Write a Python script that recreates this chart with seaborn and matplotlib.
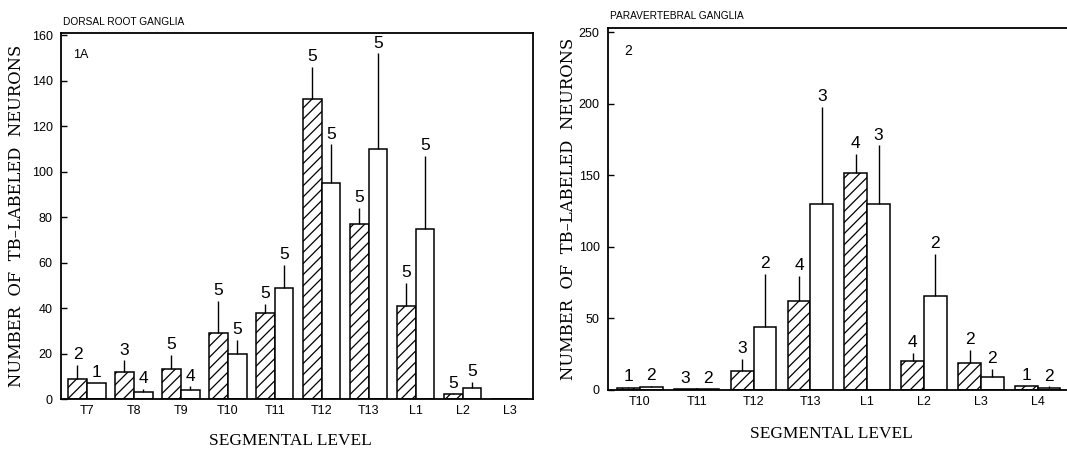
import numpy as np
import pandas as pd
import matplotlib
matplotlib.use("Agg")
import matplotlib.pyplot as plt
import seaborn as sns

# ---------------- data ----------------
series_names = ["Series 1", "Series 2"]   # hatched, open

drg_levels = ["T7", "T8", "T9", "T10", "T11", "T12", "T13", "L1", "L2", "L3"]
drg_hatched = [9, 12, 13, 29, 38, 132, 77, 41, 2, 0]
drg_hatched_err = [6, 5, 6.5, 14, 4, 14, 7, 10, 0.5, np.nan]
drg_hatched_n = [2, 3, 5, 5, 5, 5, 5, 5, 5, None]
drg_open = [7, 3, 4, 20, 49, 95, 110, 75, 5, 0]
drg_open_err = [0, 1.5, 1.5, 6, 10, 17, 42, 32, 2.5, np.nan]
drg_open_n = [1, 4, 4, 5, 5, 5, 5, 5, 5, None]

pvg_levels = ["T10", "T11", "T12", "T13", "L1", "L2", "L3", "L4"]
pvg_hatched = [1.5, 0.5, 13, 62, 152, 20, 19, 2.5]
pvg_hatched_err = [0.5, 0.5, 9, 18, 13, 6, 9, 0.5]
pvg_hatched_n = [1, 3, 3, 4, 4, 4, 2, 1]
pvg_open = [2, 0.5, 44, 130, 130, 66, 9, 1.5]
pvg_open_err = [1, 0.5, 37, 68, 41, 29, 6, 1]
pvg_open_n = [2, 2, 2, 3, 3, 2, 2, 2]

drg_yticks = [0, 20, 40, 60, 80, 100, 120, 140, 160]
pvg_yticks = [0, 50, 100, 150, 200, 250]

# ---------------- style ----------------
sns.set_theme(style="white")
plt.rcParams["font.family"] = ["Liberation Sans Narrow", "Liberation Sans", "DejaVu Sans"]
plt.rcParams["hatch.linewidth"] = 0.9
plt.rcParams["hatch.color"] = "black"
for key in ["text.color", "axes.labelcolor", "xtick.color", "ytick.color"]:
    plt.rcParams[key] = "black"

NARROW = ["Liberation Sans Narrow", "Liberation Sans", "DejaVu Sans"]
SERIF_Y = ["DejaVu Serif"]
SERIF_X = ["Liberation Serif", "DejaVu Serif"]

W, H = 1067, 453
fig = plt.figure(figsize=(W / 100, H / 100), dpi=100)


def frac(x0, y0, x1, y1):
    return [x0 / W, 1 - y1 / H, (x1 - x0) / W, (y1 - y0) / H]


def panel(ax, levels, hv, he, hn, ov, oe, on, yticks, ylim, xlim, ylab_x, xlab_y):
    df = pd.DataFrame({
        "level": levels * 2,
        "value": list(hv) + list(ov),
        "series": [series_names[0]] * len(levels) + [series_names[1]] * len(levels),
    })
    sns.barplot(data=df, x="level", y="value", hue="series", order=levels,
                hue_order=series_names, palette=["white", "white"], saturation=1,
                edgecolor="black", linewidth=1.1, errorbar=None, width=0.8,
                legend=False, ax=ax)
    errs = [he, oe]
    ns = [hn, on]
    for ci, cont in enumerate(ax.containers):
        for bar, e, n in zip(cont.patches, errs[ci], ns[ci]):
            if ci == 0:
                bar.set_hatch("///")
            if n is None:
                continue
            x = bar.get_x() + bar.get_width() / 2
            top = bar.get_height()
            if e and not np.isnan(e) and e > 0:
                ax.vlines(x, top, top + e, color="black", lw=1.0)
            ax.annotate(str(n), xy=(x, top + (0 if np.isnan(e) else e)),
                        xytext=(0, 2), textcoords="offset points", color="black",
                        ha="center", va="bottom", fontsize=12.5, family=NARROW)
    ax.set_xlim(*xlim)
    ax.set_ylim(*ylim)
    ax.set_yticks(yticks)
    ax.set_yticklabels([str(t) for t in yticks], fontsize=9, family=NARROW)
    ax.set_xticks(range(len(levels)))
    ax.set_xticklabels(levels, fontsize=9, family=NARROW)
    ax.tick_params(axis="y", direction="in", length=4, width=1, pad=6, left=True, colors="black")
    ax.tick_params(axis="x", length=0, pad=4, colors="black")
    for s in ax.spines.values():
        s.set_color("black")
        s.set_linewidth(1.3)
    ax.set_ylabel("NUMBER  OF  TB\u2013LABELED  NEURONS", family=SERIF_Y, fontsize=11.8,
                  color="black")
    ax.yaxis.set_label_coords(ylab_x, 0.5)
    ax.set_xlabel("SEGMENTAL LEVEL", family=SERIF_X, fontsize=12.5, color="black")
    ax.xaxis.set_label_coords(0.485, xlab_y)


# left panel: Dorsal root ganglia
ax1 = fig.add_axes(frac(61, 33, 533, 399))
panel(ax1, drg_levels, drg_hatched, drg_hatched_err, drg_hatched_n,
      drg_open, drg_open_err, drg_open_n, drg_yticks, (0, 161), (-0.55, 9.5),
      -0.076, -0.093)
ax1.text(0.025, 0.955, "1A", transform=ax1.transAxes, fontsize=9, family=NARROW,
         ha="left", va="top")
fig.text(63 / W, 1 - 22 / H, "DORSAL ROOT GANGLIA", fontsize=7.3, family=NARROW,
         ha="left", va="center")

# right panel: Paravertebral ganglia
ax2 = fig.add_axes(frac(608, 28, W + 2, 390))
panel(ax2, pvg_levels, pvg_hatched, pvg_hatched_err, pvg_hatched_n,
      pvg_open, pvg_open_err, pvg_open_n, pvg_yticks, (0, 253), (-0.56, 7.55),
      -0.068, -0.099)
ax2.spines["right"].set_visible(False)
ax2.text(0.035, 0.955, "2", transform=ax2.transAxes, fontsize=10, family=NARROW,
         ha="left", va="top")
fig.text(610 / W, 1 - 16 / H, "PARAVERTEBRAL GANGLIA", fontsize=7.3, family=NARROW,
         ha="left", va="center")

fig.savefig("out.png", dpi=100, facecolor="white")
